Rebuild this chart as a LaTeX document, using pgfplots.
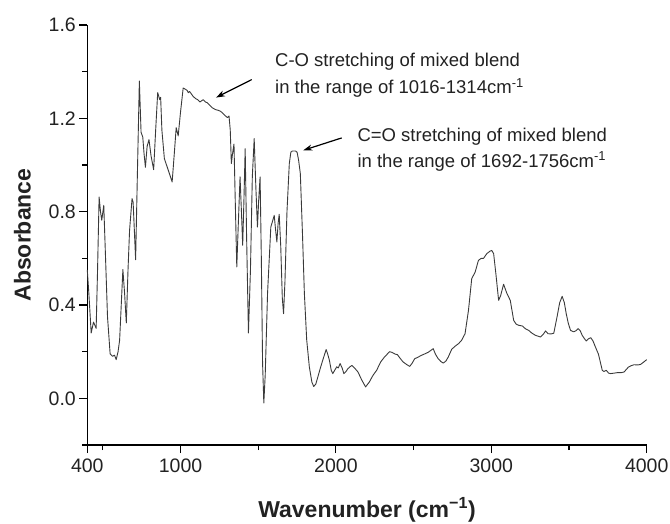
\documentclass[border=0pt]{standalone}
\usepackage{fontspec}
\setmainfont{Liberation Sans}
\usepackage{pgfplots}
\pgfplotsset{compat=1.18}
\usetikzlibrary{arrows.meta}
\definecolor{curve}{HTML}{3A3A3A}
\definecolor{txt}{HTML}{222222}
\begin{document}
\begin{tikzpicture}
\useasboundingbox (-87.3bp,-79bp) rectangle (582.7bp,445bp);
\begin{axis}[
  at={(0,0)}, anchor=south west,
  scale only axis, width=559.4bp, height=420bp,
  xmin=400, xmax=4000, ymin=-0.2, ymax=1.6,
  axis lines=left, axis line style={-, line width=1.1bp, black},
  tick align=outside,
  major tick length=8bp, minor tick length=5bp,
  every tick/.style={line width=1.1bp, black},
  xtick={400,1000,2000,3000,4000},
  minor xtick={500,1500,2500,3500},
  ytick={0,0.4,0.8,1.2,1.6},
  minor ytick={-0.2,0.2,0.6,1.0,1.4},
  /pgf/number format/assume math mode=true,
  /pgf/number format/1000 sep={},
  yticklabel style={/pgf/number format/fixed, /pgf/number format/fixed zerofill, /pgf/number format/precision=1},
  xticklabel style={yshift=-2bp},
  ticklabel style={font=\fontsize{19.5bp}{22bp}\selectfont, text=txt},
  xlabel={\bfseries Wavenumber (cm\textsuperscript{−1})},
  ylabel={\bfseries Absorbance},
  every axis x label/.style={at={(axis description cs:0.5,-0.155)}, anchor=center, font=\fontsize{23bp}{26bp}\selectfont, text=txt},
  every axis y label/.style={at={(axis description cs:-0.1162,0.5)}, rotate=90, anchor=center, font=\fontsize{23bp}{26bp}\selectfont, text=txt},
  clip=false,
]
\addplot[color=curve, line width=0.9bp, line join=round] coordinates {
(400,0.55) (410,0.45) (425,0.28) (440,0.327) (457,0.30) (466,0.55) (476,0.863) (485,0.80)
(493,0.763) (506,0.827) (515,0.65) (530,0.35) (547,0.19) (562,0.18) (575,0.185) (586,0.166)
(598,0.20) (608,0.249) (629,0.552) (640,0.45) (651,0.323) (662,0.55) (672,0.72) (688,0.856)
(695,0.84) (711,0.594) (722,0.95) (735,1.36) (746,1.14) (757,1.12) (765,1.05) (774,0.99)
(785,1.08) (797,1.109) (810,1.04) (827,0.98) (840,1.15) (853,1.31) (866,1.28) (872,1.29)
(880,1.15) (896,1.027) (918,0.984) (935,0.95) (946,0.927) (960,1.05) (972,1.16) (985,1.125)
(1000,1.227) (1017,1.33) (1030,1.325) (1042,1.32) (1050,1.31) (1058,1.315) (1064,1.31)
(1080,1.295) (1096,1.285) (1110,1.28) (1125,1.27) (1135,1.275) (1146,1.28) (1160,1.27)
(1172,1.267) (1190,1.255) (1205,1.245) (1226,1.237) (1240,1.235) (1258,1.23) (1275,1.22)
(1290,1.21) (1302,1.203) (1312,1.21) (1320,1.15) (1327,1.006) (1335,1.05) (1344,1.09)
(1352,0.85) (1362,0.563) (1372,0.75) (1383,0.949) (1392,0.80) (1400,0.656) (1408,0.85)
(1416,1.07) (1425,0.70) (1437,0.28) (1450,0.55) (1462,0.95) (1474,1.113) (1485,0.90)
(1495,0.734) (1503,0.85) (1512,0.949) (1520,0.60) (1528,0.15) (1536,-0.02) (1545,0.10)
(1560,0.45) (1581,0.734) (1603,0.784) (1612,0.72) (1620,0.67) (1628,0.75) (1635,0.789)
(1645,0.65) (1655,0.43) (1663,0.363) (1672,0.50) (1685,0.80) (1700,1.006) (1710,1.055)
(1720,1.06) (1740,1.06) (1750,1.055) (1760,1.02) (1771,0.963) (1785,0.70) (1797,0.449)
(1812,0.25) (1829,0.134) (1845,0.07) (1857,0.051) (1870,0.06) (1883,0.09) (1900,0.13)
(1915,0.163) (1937,0.209) (1947,0.19) (1958,0.163) (1970,0.12) (1980,0.106) (1992,0.12)
(2005,0.135) (2015,0.13) (2027,0.149) (2040,0.13) (2051,0.106) (2065,0.115) (2077,0.127)
(2090,0.135) (2103,0.141) (2120,0.13) (2142,0.113) (2165,0.08) (2191,0.049) (2215,0.07)
(2239,0.099) (2262,0.12) (2288,0.156) (2310,0.175) (2331,0.19) (2345,0.20) (2361,0.197)
(2380,0.19) (2396,0.187) (2415,0.17) (2432,0.156) (2455,0.145) (2475,0.137) (2490,0.15)
(2507,0.17) (2525,0.175) (2546,0.183) (2570,0.19) (2593,0.197) (2610,0.205) (2626,0.213)
(2640,0.19) (2658,0.17) (2675,0.158) (2691,0.151) (2708,0.16) (2723,0.177) (2745,0.21)
(2766,0.223) (2790,0.235) (2809,0.249) (2831,0.277) (2853,0.377) (2874,0.513) (2896,0.541)
(2917,0.591) (2935,0.60) (2950,0.60) (2971,0.62) (2990,0.63) (3003,0.634) (3015,0.62)
(3030,0.53) (3047,0.42) (3060,0.44) (3079,0.489) (3100,0.45) (3122,0.42) (3144,0.334)
(3160,0.318) (3176,0.313) (3200,0.31) (3220,0.298) (3241,0.291) (3260,0.28) (3284,0.27)
(3316,0.263) (3335,0.275) (3349,0.289) (3365,0.277) (3385,0.276) (3402,0.279) (3423,0.349)
(3440,0.41) (3456,0.437) (3470,0.41) (3482,0.363) (3496,0.32) (3510,0.291) (3530,0.285)
(3545,0.29) (3559,0.299) (3572,0.29) (3585,0.27) (3600,0.255) (3611,0.246) (3625,0.255)
(3640,0.26) (3655,0.245) (3670,0.22) (3689,0.19) (3700,0.16) (3714,0.12) (3725,0.115)
(3740,0.12) (3755,0.108) (3768,0.106) (3790,0.108) (3810,0.11) (3835,0.11) (3855,0.113)
(3870,0.125) (3883,0.134) (3900,0.14) (3919,0.144) (3940,0.143) (3960,0.145) (3980,0.155)
(4000,0.166)
};
\draw[-{Stealth[length=9bp,width=6bp]}, line width=1.2bp, black] (axis cs:1458,1.366) -- (axis cs:1228,1.289);
\draw[-{Stealth[length=9bp,width=6bp]}, line width=1.2bp, black] (axis cs:2037,1.116) -- (axis cs:1790,1.063);
\node[anchor=west, align=left, inner sep=0pt, text=txt, font=\fontsize{18.5bp}{26.5bp}\selectfont] at (axis cs:1608,1.384) {C-O stretching of mixed blend\\in the range of 1016-1314cm\textsuperscript{-1}};
\node[anchor=west, align=left, inner sep=0pt, text=txt, font=\fontsize{18.5bp}{26bp}\selectfont] at (axis cs:2138,1.067) {C=O stretching of mixed blend\\in the range of 1692-1756cm\textsuperscript{-1}};
\end{axis}
\end{tikzpicture}
\end{document}
